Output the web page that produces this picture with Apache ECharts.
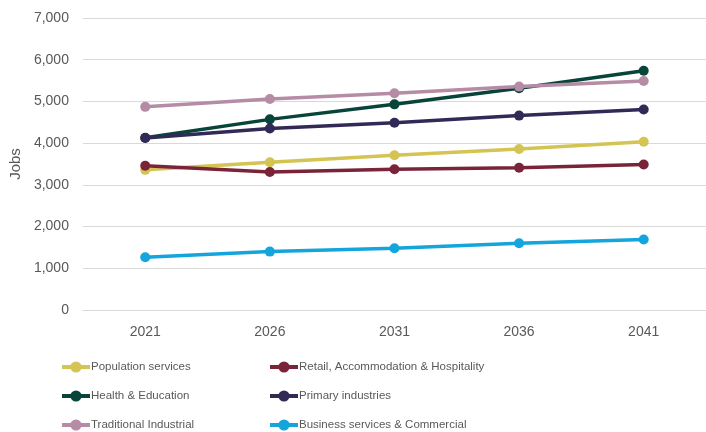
<!DOCTYPE html>
<html>
<head>
<meta charset="utf-8">
<script src="https://cdn.jsdelivr.net/npm/echarts@6/dist/echarts.min.js"></script>
<style>
	html, body { margin: 0; padding: 0; background: #fff; }
	#chart { width: 706px; height: 432px; }
</style>
</head>
<body>
<div id="chart"></div>
<script>
var years = ['2021', '2026', '2031', '2036', '2041'];

var populationServices = [3360, 3540, 3710, 3860, 4035];
var retailHospitality = [3460, 3310, 3375, 3410, 3490];
var healthEducation = [4130, 4570, 4930, 5315, 5735];
var primaryIndustries = [4125, 4350, 4490, 4660, 4805];
var traditionalIndustrial = [4870, 5060, 5195, 5355, 5490];
var businessCommercial = [1265, 1400, 1480, 1600, 1690];

var seriesNames = [
	'Population services',
	'Retail, Accommodation & Hospitality',
	'Health & Education',
	'Primary industries',
	'Traditional Industrial',
	'Business services & Commercial'
];

var COLOR = {
	POPULATION: '#D3C453',
	RETAIL: '#7A2439',
	HEALTH: '#08443A',
	PRIMARY: '#312A56',
	TRADITIONAL: '#B68BA5',
	BUSINESS: '#14A5DC'
};

var FONT = '"Liberation Sans", Arial, sans-serif';

function makeSeries(name, data, color) {
	return {
		name: name,
		type: 'line',
		data: data,
		symbol: 'circle',
		symbolSize: 10,
		lineStyle: { color: color, width: 3.5 },
		itemStyle: { color: color },
		z: 2
	};
}

// one legend per item, laid out in two columns like the original
function legendItem(name, left, centerY) {
	return {
		left: left,
		top: centerY - 7,
		padding: 0,
		itemWidth: 28,
		itemHeight: 14,
		data: [name],
		lineStyle: { width: 4 },
		itemStyle: { borderWidth: 0 },
		textStyle: {
			color: '#595959',
			fontSize: 11.5,
			fontFamily: FONT,
			padding: [0, 0, 0, -4]
		}
	};
}

var myChart = echarts.init(document.getElementById('chart'));
myChart.setOption({
	animation: false,
	grid: {
		left: 82,
		right: -7,
		top: 18,
		bottom: 122
	},
	legend: [
		legendItem(seriesNames[0], 60, 368),
		legendItem(seriesNames[1], 268, 368),
		legendItem(seriesNames[2], 60, 397),
		legendItem(seriesNames[3], 268, 397),
		legendItem(seriesNames[4], 60, 426),
		legendItem(seriesNames[5], 268, 426)
	],
	xAxis: {
		type: 'category',
		data: years,
		boundaryGap: true,
		axisTick: { show: false },
		axisLine: { show: true, lineStyle: { color: '#d9d9d9', width: 1 } },
		axisLabel: {
			color: '#595959',
			fontSize: 14,
			fontFamily: FONT,
			margin: 15
		}
	},
	yAxis: {
		type: 'value',
		min: 0,
		max: 7000,
		interval: 1000,
		name: 'Jobs',
		nameLocation: 'middle',
		nameRotate: 90,
		nameGap: 55,
		nameTextStyle: { color: '#595959', fontSize: 15, fontFamily: FONT },
		axisLine: { show: false },
		axisTick: { show: false },
		axisLabel: {
			color: '#595959',
			fontSize: 14,
			fontFamily: FONT,
			margin: 14,
			formatter: function (v) {
				return v.toLocaleString('en-US');
			}
		},
		splitLine: { show: true, lineStyle: { color: '#d9d9d9', width: 1 } }
	},
	series: [
		makeSeries(seriesNames[0], populationServices, COLOR.POPULATION),
		makeSeries(seriesNames[1], retailHospitality, COLOR.RETAIL),
		makeSeries(seriesNames[2], healthEducation, COLOR.HEALTH),
		makeSeries(seriesNames[3], primaryIndustries, COLOR.PRIMARY),
		makeSeries(seriesNames[4], traditionalIndustrial, COLOR.TRADITIONAL),
		makeSeries(seriesNames[5], businessCommercial, COLOR.BUSINESS)
	]
});
</script>
</body>
</html>
